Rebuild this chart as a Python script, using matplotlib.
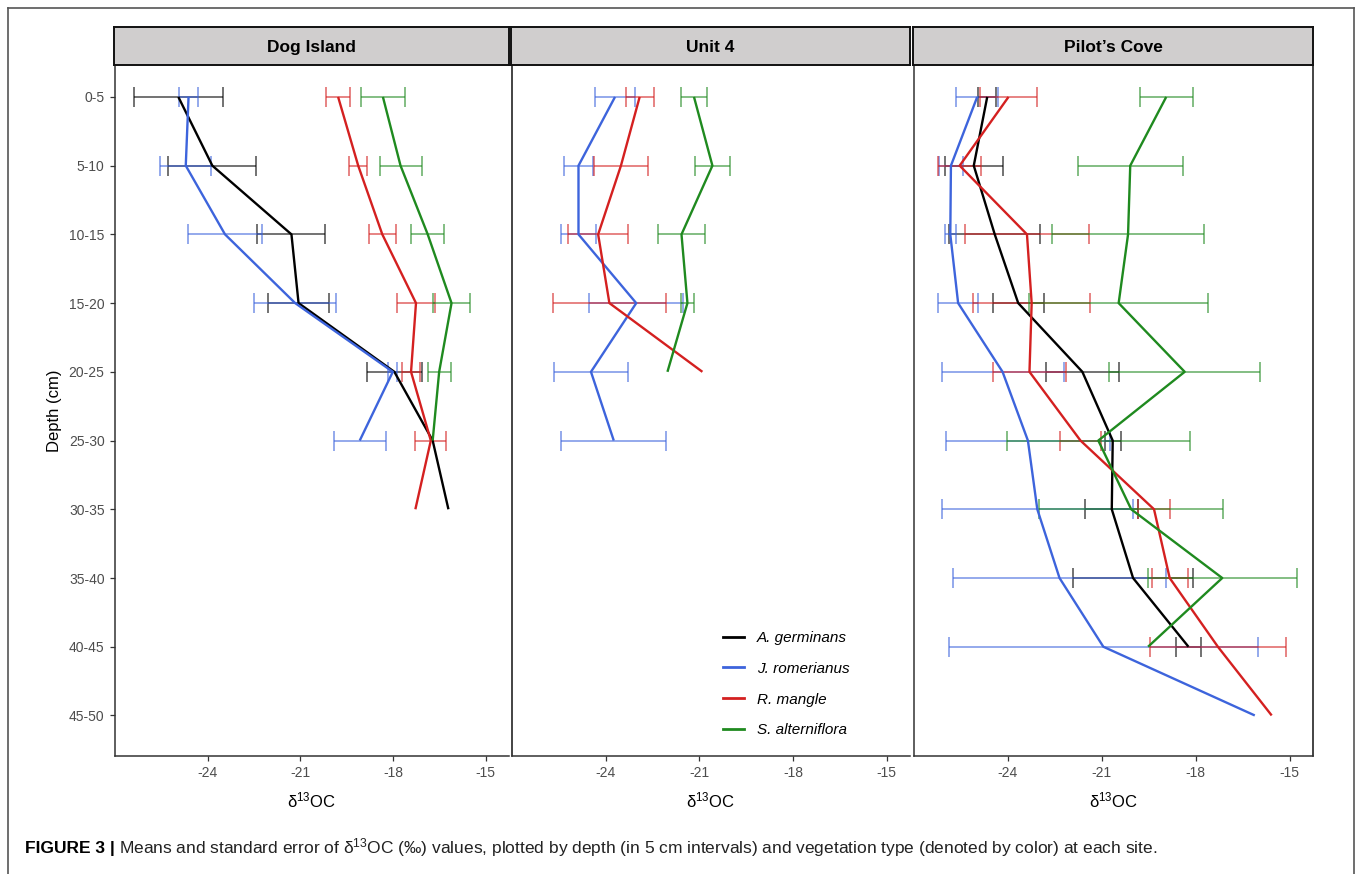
import numpy as np
import matplotlib
matplotlib.use("Agg")
import matplotlib.pyplot as plt
from matplotlib.lines import Line2D
from matplotlib import font_manager

nan = np.nan

# ---------- data ----------
depths = ['0-5', '5-10', '10-15', '15-20', '20-25', '25-30', '30-35', '35-40', '40-45', '45-50']
sites = ['Dog Island', 'Unit 4', "Pilot’s Cove"]
species = ['A. germinans', 'J. romerianus', 'R. mangle', 'S. alterniflora']
colors = ['#000000', '#3D64DC', '#D42020', '#1F8A1F']

# Dog Island
dog_germ_mean = [-24.95, -23.85, -21.29, -21.06, -17.96, -16.72, -16.21]
dog_germ_se = [1.45, 1.42, 1.10, 0.98, 0.90, nan, nan]
dog_rom_mean = [-24.62, -24.71, -23.44, -21.17, -18.01, -19.08]
dog_rom_se = [0.32, 0.83, 1.20, 1.33, 0.15, 0.84]
dog_man_mean = [-19.78, -19.13, -18.35, -17.26, -17.42, -16.78, -17.28]
dog_man_se = [0.38, 0.30, 0.43, 0.62, 0.29, 0.50, nan]
dog_alt_mean = [-18.33, -17.76, -16.88, -16.11, -16.51, -16.72]
dog_alt_se = [0.71, 0.68, 0.53, 0.59, 0.37, nan]

# Unit 4 (no A. germinans)
u4_rom_mean = [-23.70, -24.87, -24.87, -23.02, -24.47, -23.74]
u4_rom_se = [0.65, 0.45, 0.57, 1.50, 1.18, 1.68]
u4_man_mean = [-22.91, -23.51, -24.24, -23.88, -20.90]
u4_man_se = [0.45, 0.86, 0.96, 1.80, nan]
u4_alt_mean = [-21.17, -20.58, -21.57, -21.38, -22.02]
u4_alt_se = [0.42, 0.57, 0.74, 0.22, nan]

# Pilot's Cove
pc_germ_mean = [-24.66, -25.09, -24.42, -23.67, -21.62, -20.65, -20.68, -20.00, -18.23]
pc_germ_se = [0.29, 0.92, 1.45, 0.82, 1.17, 0.25, 0.84, 1.92, 0.39]
pc_rom_mean = [-24.98, -25.82, -25.84, -25.59, -24.17, -23.36, -23.06, -22.35, -20.95, -16.11]
pc_rom_se = [0.67, 0.37, 0.18, 0.65, 1.95, 2.63, 3.06, 3.40, 4.93, nan]
pc_man_mean = [-23.98, -25.54, -23.39, -23.24, -23.31, -21.68, -19.33, -18.83, -17.29, -15.57]
pc_man_se = [0.92, 0.69, 1.97, 1.86, 1.18, 0.64, 0.50, 0.58, 2.18, nan]
pc_alt_mean = [-18.94, -20.09, -20.16, -20.46, -18.35, -21.11, -20.06, -17.15, -19.52]
pc_alt_se = [0.84, 1.68, 2.43, 2.85, 2.42, 2.92, 2.95, 2.38, nan]

site_data = [
    [(dog_germ_mean, dog_germ_se), (dog_rom_mean, dog_rom_se),
     (dog_man_mean, dog_man_se), (dog_alt_mean, dog_alt_se)],
    [None, (u4_rom_mean, u4_rom_se), (u4_man_mean, u4_man_se), (u4_alt_mean, u4_alt_se)],
    [(pc_germ_mean, pc_germ_se), (pc_rom_mean, pc_rom_se),
     (pc_man_mean, pc_man_se), (pc_alt_mean, pc_alt_se)],
]

# ---------- style ----------
plt.rcParams['font.family'] = ['Liberation Sans', 'DejaVu Sans']
plt.rcParams['mathtext.fontset'] = 'custom'
plt.rcParams['mathtext.rm'] = 'Liberation Sans'
plt.rcParams['mathtext.it'] = 'Liberation Sans:italic'

W, H = 1358, 874
fig = plt.figure(figsize=(W / 100, H / 100), dpi=100)


def px_box(x0, x1, ytop, ybot):
    return [x0 / W, 1 - ybot / H, (x1 - x0) / W, (ybot - ytop) / H]


# outer frame
for xs, ys in [([8, 1354], [8, 8]), ([8, 8], [8, 874]), ([1354, 1354], [8, 874])]:
    fig.add_artist(Line2D([x / W for x in xs], [1 - y / H for y in ys],
                          color='#555555', lw=1.2))

panels = [(115, 509), (512, 910), (914, 1313)]
axes = []
for i, (x0, x1) in enumerate(panels):
    ax = fig.add_axes(px_box(x0, x1, 66, 756))
    axes.append(ax)
    data = site_data[i]
    for k in range(4):
        if data[k] is None:
            continue
        m = np.array(data[k][0], dtype=float)
        s = np.array(data[k][1], dtype=float)
        y = np.arange(len(m))
        ax.errorbar(m, y, xerr=s, fmt='none', ecolor=colors[k], elinewidth=1.1,
                    capsize=7, capthick=1.1, alpha=0.7, zorder=2)
        ax.plot(m, y, color=colors[k], lw=1.7, zorder=3, solid_capstyle='butt')

    ax.set_xlim(-27.0, -14.25)
    ax.set_ylim(9.59, -0.45)
    ax.set_xticks([-24, -21, -18, -15])
    ax.set_xticklabels(['-24', '-21', '-18', '-15'])
    ax.tick_params(axis='both', colors='#333333', labelcolor='#4D4D4D',
                   labelsize=10, length=3.5, width=0.9, pad=4)
    if i == 0:
        ax.set_yticks(range(len(depths)))
        ax.set_yticklabels(depths)
        ax.set_ylabel('Depth (cm)', fontsize=12, labelpad=5)
    else:
        ax.set_yticks([])
    ax.set_xlabel(r'δ$^{13}$OC', fontsize=12, labelpad=7)
    for sp in ['top', 'right']:
        ax.spines[sp].set_visible(False)
    for sp in ['left', 'bottom']:
        ax.spines[sp].set_color('#333333')
        ax.spines[sp].set_linewidth(1.1)
    if i == 2:
        ax.spines['right'].set_visible(True)
        ax.spines['right'].set_color('#111111')
        ax.spines['right'].set_linewidth(1.1)
    if i == 1:
        ax.spines['left'].set_color('#111111')

    # strip
    sx = fig.add_axes(px_box(x0 - 1, x1, 27, 65))
    sx.set_facecolor('#D0CECE')
    sx.set_xticks([])
    sx.set_yticks([])
    for sp in sx.spines.values():
        sp.set_color('#111111')
        sp.set_linewidth(1.4)
    sx.text(0.5, 0.47, sites[i], ha='center', va='center', fontsize=12.5,
            fontweight='bold', transform=sx.transAxes)

# legend in the Unit 4 panel
handles = [Line2D([0], [0], color=c, lw=2) for c in colors]
leg = axes[1].legend(handles, species, loc='upper left', bbox_to_anchor=(0.515, 0.19),
                     frameon=False, prop={'style': 'italic', 'size': 11},
                     handlelength=1.4, handletextpad=0.8, labelspacing=1.1,
                     borderaxespad=0)

# caption
names = {f.name for f in font_manager.fontManager.ttflist}
if 'Liberation Sans Narrow' in names:
    cap_font, cap_size = 'Liberation Sans Narrow', 14.6
else:
    cap_font, cap_size = 'Liberation Sans', 12.55
t1 = fig.text(25 / W, 1 - 848 / H, 'FIGURE 3 |', fontsize=cap_size, fontweight='bold',
              family=cap_font, va='center', ha='left')
fig.canvas.draw()
bb = t1.get_window_extent()
fig.text((bb.x1 + 4) / W, 1 - 848 / H,
         'Means and standard error of δ$^{13}$OC (‰) values, plotted by depth (in 5 cm intervals) '
         'and vegetation type (denoted by color) at each site.',
         fontsize=cap_size, family=cap_font, va='center', ha='left', color='#222222')

fig.savefig('out.png', dpi=100)
